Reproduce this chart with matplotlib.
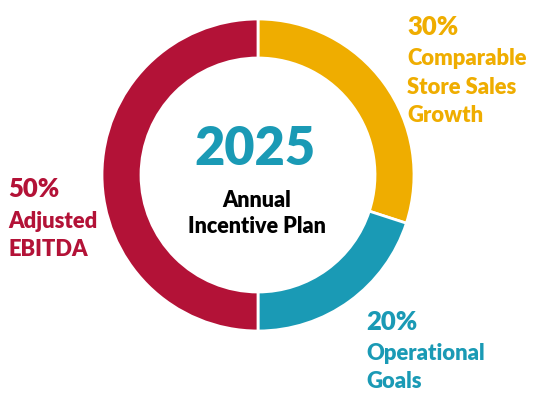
import matplotlib.pyplot as plt

# Data
shares = [30, 20, 50]
pct_labels = ['30%', '20%', '50%']
names = [['Comparable', 'Store Sales', 'Growth'],
         ['Operational', 'Goals'],
         ['Adjusted', 'EBITDA']]
colors = ['#EFAD00', '#1A9AB5', '#B31237']
center_year = '2025'
center_lines = ['Annual', 'Incentive Plan']

plt.rcParams['font.family'] = ['Lato', 'DejaVu Sans']

W, H = 536, 402
fig = plt.figure(figsize=(W / 100, H / 100), dpi=100)
ax = fig.add_axes([0, 0, 1, 1])

cx, cy = 258, 176  # pixel coords from top
ax.pie(shares, colors=colors, startangle=90, counterclock=False,
       radius=156, center=(cx, H - cy), frame=True,
       wedgeprops=dict(width=39, edgecolor='white', linewidth=2))
ax.set_xlim(0, W)
ax.set_ylim(0, H)
ax.set_aspect('equal')
ax.axis('off')

# label anchors: (x, baseline of percent, baseline of first name line)
anchors = [(407, 35, 65), (366, 330, 360), (8, 197, 228)]
for (x, yp, yn), pct, lines, c in zip(anchors, pct_labels, names, colors):
    ax.text(x, H - yp, pct, color=c, fontsize=18.5, fontweight='heavy',
            ha='left', va='baseline')
    for i, line in enumerate(lines):
        ax.text(x, H - (yn + i * 28.5), line, color=c, fontsize=15.8,
                fontweight='heavy', ha='left', va='baseline')

ax.text(cx - 3, H - 165, center_year, color='#1A9AB5', fontsize=37.5,
        fontweight='heavy', ha='center', va='baseline')
for i, line in enumerate(center_lines):
    ax.text(cx - 1, H - (207 + i * 26), line, color='black', fontsize=15.5,
            fontweight='heavy', ha='center', va='baseline')

fig.savefig('out.png', dpi=100)
